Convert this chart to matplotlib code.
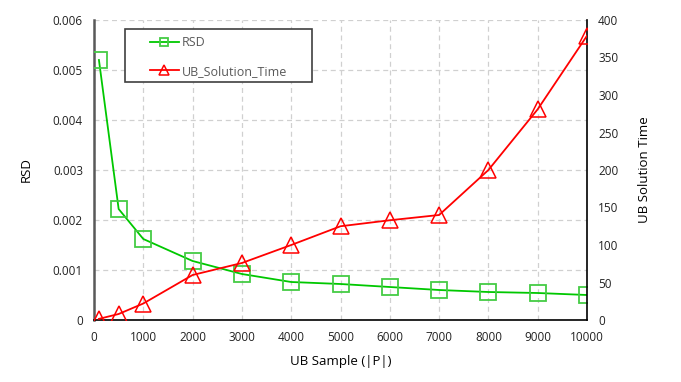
import matplotlib

matplotlib.use("Agg")
import matplotlib.pyplot as plt  # noqa: E402
from matplotlib.patches import Rectangle  # noqa: E402

# data
samples = [100, 500, 1000, 2000, 3000, 4000, 5000, 6000, 7000, 8000, 9000, 10000]
rsd = [0.0052, 0.00222, 0.00162, 0.00118, 0.00092, 0.00076, 0.00072,
       0.00066, 0.0006, 0.00056, 0.00054, 0.0005]
ub_time = [1.5, 8, 22, 60, 76, 100, 125, 133, 140, 200, 281, 379]
x_ticks = list(range(0, 10001, 1000))
rsd_ticks = [0, 0.001, 0.002, 0.003, 0.004, 0.005, 0.006]
rsd_labels = ["0", "0.001", "0.002", "0.003", "0.004", "0.005", "0.006"]
time_ticks = list(range(0, 401, 50))

plt.rcParams["font.family"] = ["Open Sans", "DejaVu Sans"]
plt.rcParams["font.size"] = 8.5

W, H = 681, 382
fig = plt.figure(figsize=(W / 100, H / 100), dpi=100)
ax = fig.add_axes([94 / W, 1 - 320 / H, 493 / W, 300 / H])
ax2 = ax.twinx()

GREEN = "#00c800"
GREEN_MK = "#44cc44"
RED = "#ff0000"

l1, = ax.plot(samples, rsd, color=GREEN, lw=1.3, marker="s", ms=11,
              mfc="none", mec=GREEN_MK, mew=1.3, label="RSD", zorder=3)
l2, = ax2.plot(samples, ub_time, color=RED, lw=1.3, marker="^", ms=12,
               mfc="none", mec=RED, mew=1.1, label="UB_Solution_Time", zorder=3)

ax.set_xlim(0, 10000)
ax.set_ylim(0, 0.006)
ax2.set_ylim(0, 400)
ax.set_xticks(x_ticks)
ax.set_yticks(rsd_ticks)
ax.set_yticklabels(rsd_labels)
ax2.set_yticks(time_ticks)

ax.grid(True, color="#d0d0d0", ls=(0, (4, 3)), lw=0.9)
ax.set_axisbelow(True)
ax.tick_params(length=0, pad=8, colors="#222222")
ax2.tick_params(length=0, pad=8, colors="#222222")

for a in (ax, ax2):
    a.spines["top"].set_visible(False)
ax.spines["left"].set_color("#595959")
ax.spines["left"].set_linewidth(1.8)
ax.spines["bottom"].set_color("#000000")
ax.spines["bottom"].set_linewidth(1.2)
ax.spines["right"].set_visible(False)
ax2.spines["left"].set_visible(False)
ax2.spines["bottom"].set_visible(False)
ax2.spines["right"].set_color("#000000")
ax2.spines["right"].set_linewidth(1.2)

ax.set_xlabel("UB Sample (|P|)", fontsize=9.5, labelpad=8)
ax.set_ylabel("RSD", fontsize=9.5, labelpad=14)
ax2.set_ylabel("UB Solution Time", fontsize=9.5, labelpad=14)

# legend box drawn separately so the entries can sit indented inside it
box = Rectangle((125 / W, 1 - 82 / H), 187 / W, 53 / H, transform=fig.transFigure,
                facecolor="white", edgecolor="#404040", lw=1.2, zorder=9)
fig.patches.append(box)
leg = fig.legend(handles=[l1, l2], loc="upper left",
                 bbox_to_anchor=(150 / W, 1 - 36 / H),
                 frameon=False, labelcolor="#595959",
                 fontsize=9, handlelength=2.3, borderpad=0, labelspacing=1.25,
                 handletextpad=0.25, borderaxespad=0, markerscale=0.55)
leg.set_zorder(10)

fig.savefig("out.png", dpi=100)
